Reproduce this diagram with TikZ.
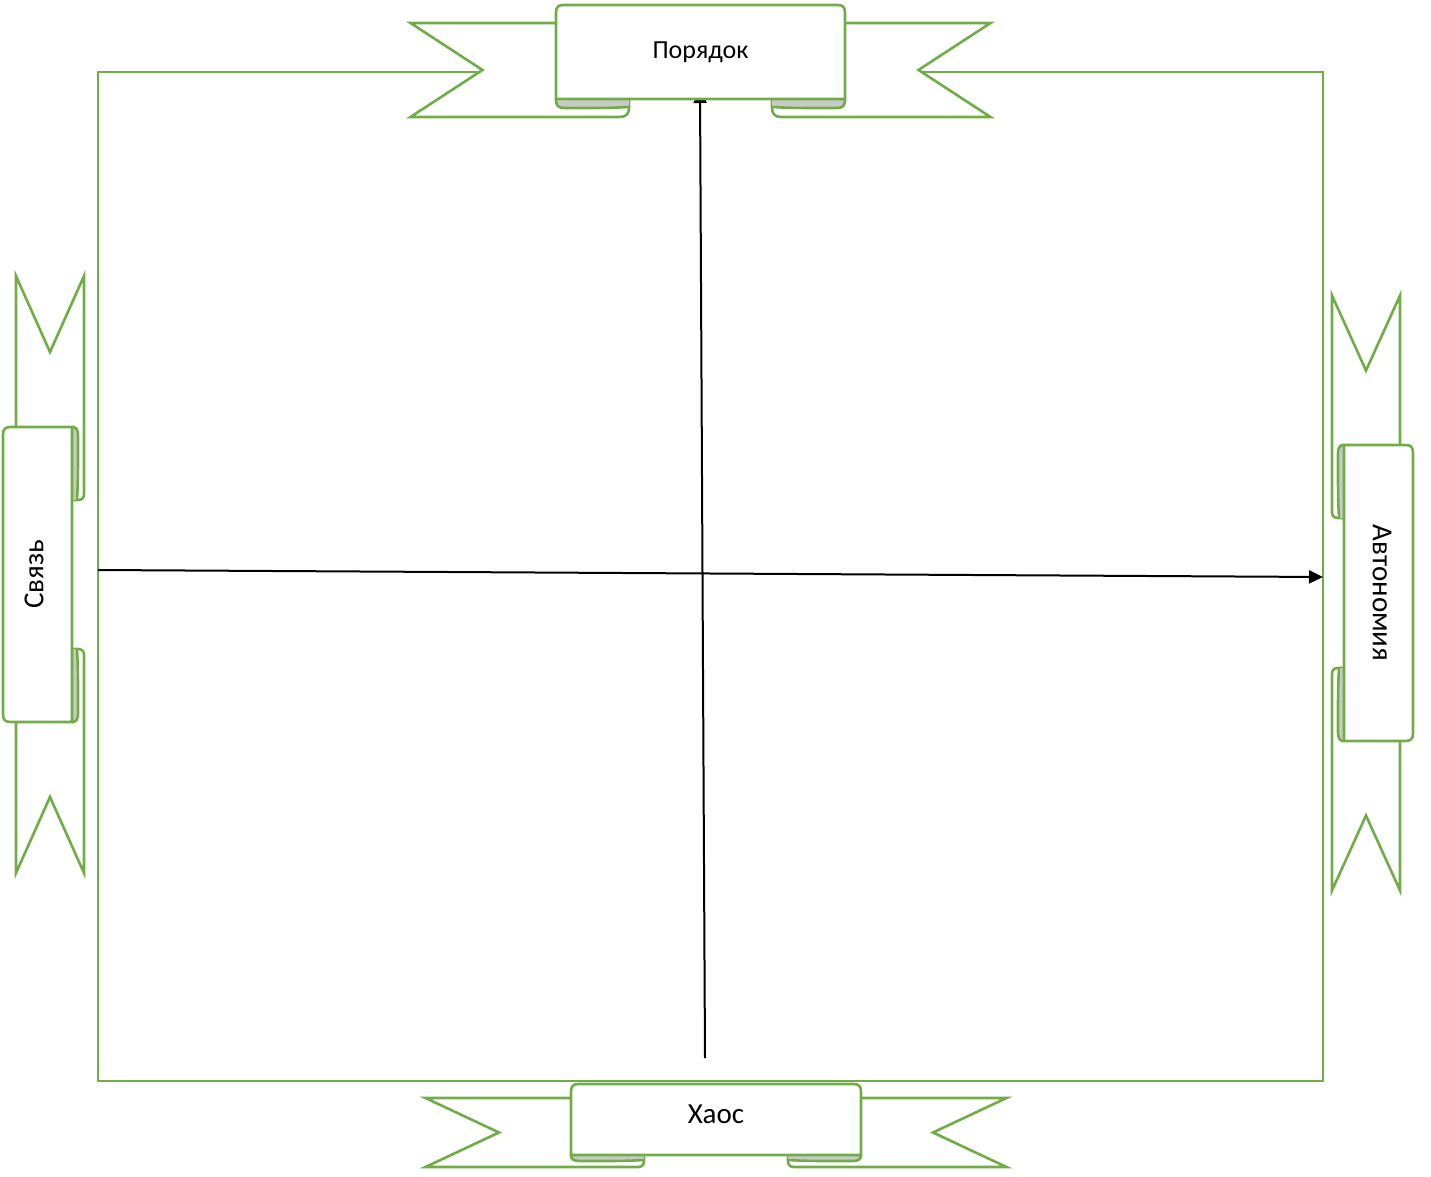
\documentclass[tikz,border=0pt]{standalone}
\usepackage{fontspec}
\setmainfont{Carlito}
\usetikzlibrary{arrows.meta}

\definecolor{ribbongreen}{HTML}{70AD47}
\definecolor{curlgray}{HTML}{C9C9C9}

\tikzset{
  ribbonline/.style={draw=ribbongreen, line width=1.3pt},
  ribbontext/.style={font=\fontsize{14.5}{17}\selectfont},
  axisline/.style={line width=1pt, -{Triangle[length=7pt, width=6.5pt]}}
}

% ribbon lying flat, origin at the middle of its top edge, y pointing down
% #1 half width of panel, #2 tip, #3 notch, #4 top of tails, #5 bottom of panel, #6 bottom of curls
\newcommand{\drawribbon}[6]{%
  \pgfmathsetmacro{\rbc}{#1-73}
  \pgfmathsetmacro{\rbm}{(#5+#6)/2}
  \pgfmathsetmacro{\rbn}{(#4+#6)/2}
  \pgfmathsetmacro{\rbr}{(#6-#5)/2}
  % tails
  \filldraw[ribbonline, fill=white] (-\rbc,#5) -- (-\rbc,#4) -- (-#2,#4) -- (-#3,\rbn) -- (-#2,#6)
    -- ({-\rbc-\rbr},#6) .. controls ({-\rbc-0.3*\rbr},#6) and (-\rbc,{#6-0.4*\rbr}) .. (-\rbc,{#6-\rbr}) -- cycle;
  \filldraw[ribbonline, fill=white] (\rbc,#5) -- (\rbc,#4) -- (#2,#4) -- (#3,\rbn) -- (#2,#6)
    -- ({\rbc+\rbr},#6) .. controls ({\rbc+0.3*\rbr},#6) and (\rbc,{#6-0.4*\rbr}) .. (\rbc,{#6-\rbr}) -- cycle;
  % curls
  \fill[curlgray] (-#1,#5) -- (-\rbc,#5) -- (-\rbc,{\rbm-1}) .. controls ({-\rbc-20},\rbm) .. ({-#1+9},\rbm)
    .. controls ({-#1+2},\rbm) and (-#1,{\rbm-2}) .. (-#1,#5) -- cycle;
  \fill[curlgray] (#1,#5) -- (\rbc,#5) -- (\rbc,{\rbm-1}) .. controls ({\rbc+20},\rbm) .. ({#1-9},\rbm)
    .. controls ({#1-2},\rbm) and (#1,{\rbm-2}) .. (#1,#5) -- cycle;
  \draw[ribbonline] (-#1,#5) .. controls (-#1,{\rbm-2}) and ({-#1+2},\rbm) .. ({-#1+9},\rbm)
    .. controls ({-\rbc-20},\rbm) .. (-\rbc,{\rbm-1});
  \draw[ribbonline] (#1,#5) .. controls (#1,{\rbm-2}) and ({#1-2},\rbm) .. ({#1-9},\rbm)
    .. controls ({\rbc+20},\rbm) .. (\rbc,{\rbm-1});
  % panel
  \filldraw[ribbonline, fill=white] (-#1,#5) -- (-#1,8) .. controls (-#1,2) and ({-#1+2},0) .. ({-#1+8},0)
    -- ({#1-8},0) .. controls ({#1-2},0) and (#1,2) .. (#1,8) -- (#1,#5) -- cycle;
}

\begin{document}
\begin{tikzpicture}[x=0.5pt, y=-0.5pt]

  \useasboundingbox (0,0) rectangle (1431,1177);

  % the square
  \draw[ribbonline] (98,72) rectangle (1323,1081);

  % the axes
  \coordinate (chaos) at (705,1058);
  \coordinate (order) at (700,89);
  \coordinate (link) at (98,570);
  \coordinate (autonomy) at (1323,577);
  \draw[axisline] (chaos) -- (order);
  \draw[axisline] (link) -- (autonomy);

  % top ribbon
  \begin{scope}[shift={(700.5,5)}]
    \drawribbon{144.5}{290}{218}{18}{94}{112}
    \node[font=\fontsize{13}{16}\selectfont] (ordertext) at (0,47) {Порядок};
  \end{scope}

  % bottom ribbon
  \begin{scope}[shift={(716,1084)}]
    \drawribbon{145}{290.5}{217}{14}{71}{83}
    \node[ribbontext] (chaostext) at (0,30) {Хаос};
  \end{scope}

  % left ribbon
  \begin{scope}[shift={(3,574.5)}, rotate=90]
    \drawribbon{147.5}{298.5}{222.5}{13}{69}{81}
    \node[ribbontext, rotate=90] (linktext) at (0,31) {Связь};
  \end{scope}

  % right ribbon
  \begin{scope}[shift={(1413,593)}, rotate=-90]
    \drawribbon{148}{297.5}{222.5}{13}{69}{81}
    \node[ribbontext, rotate=-90] (autonomytext) at (0,31) {Автономия};
  \end{scope}

\end{tikzpicture}
\end{document}
